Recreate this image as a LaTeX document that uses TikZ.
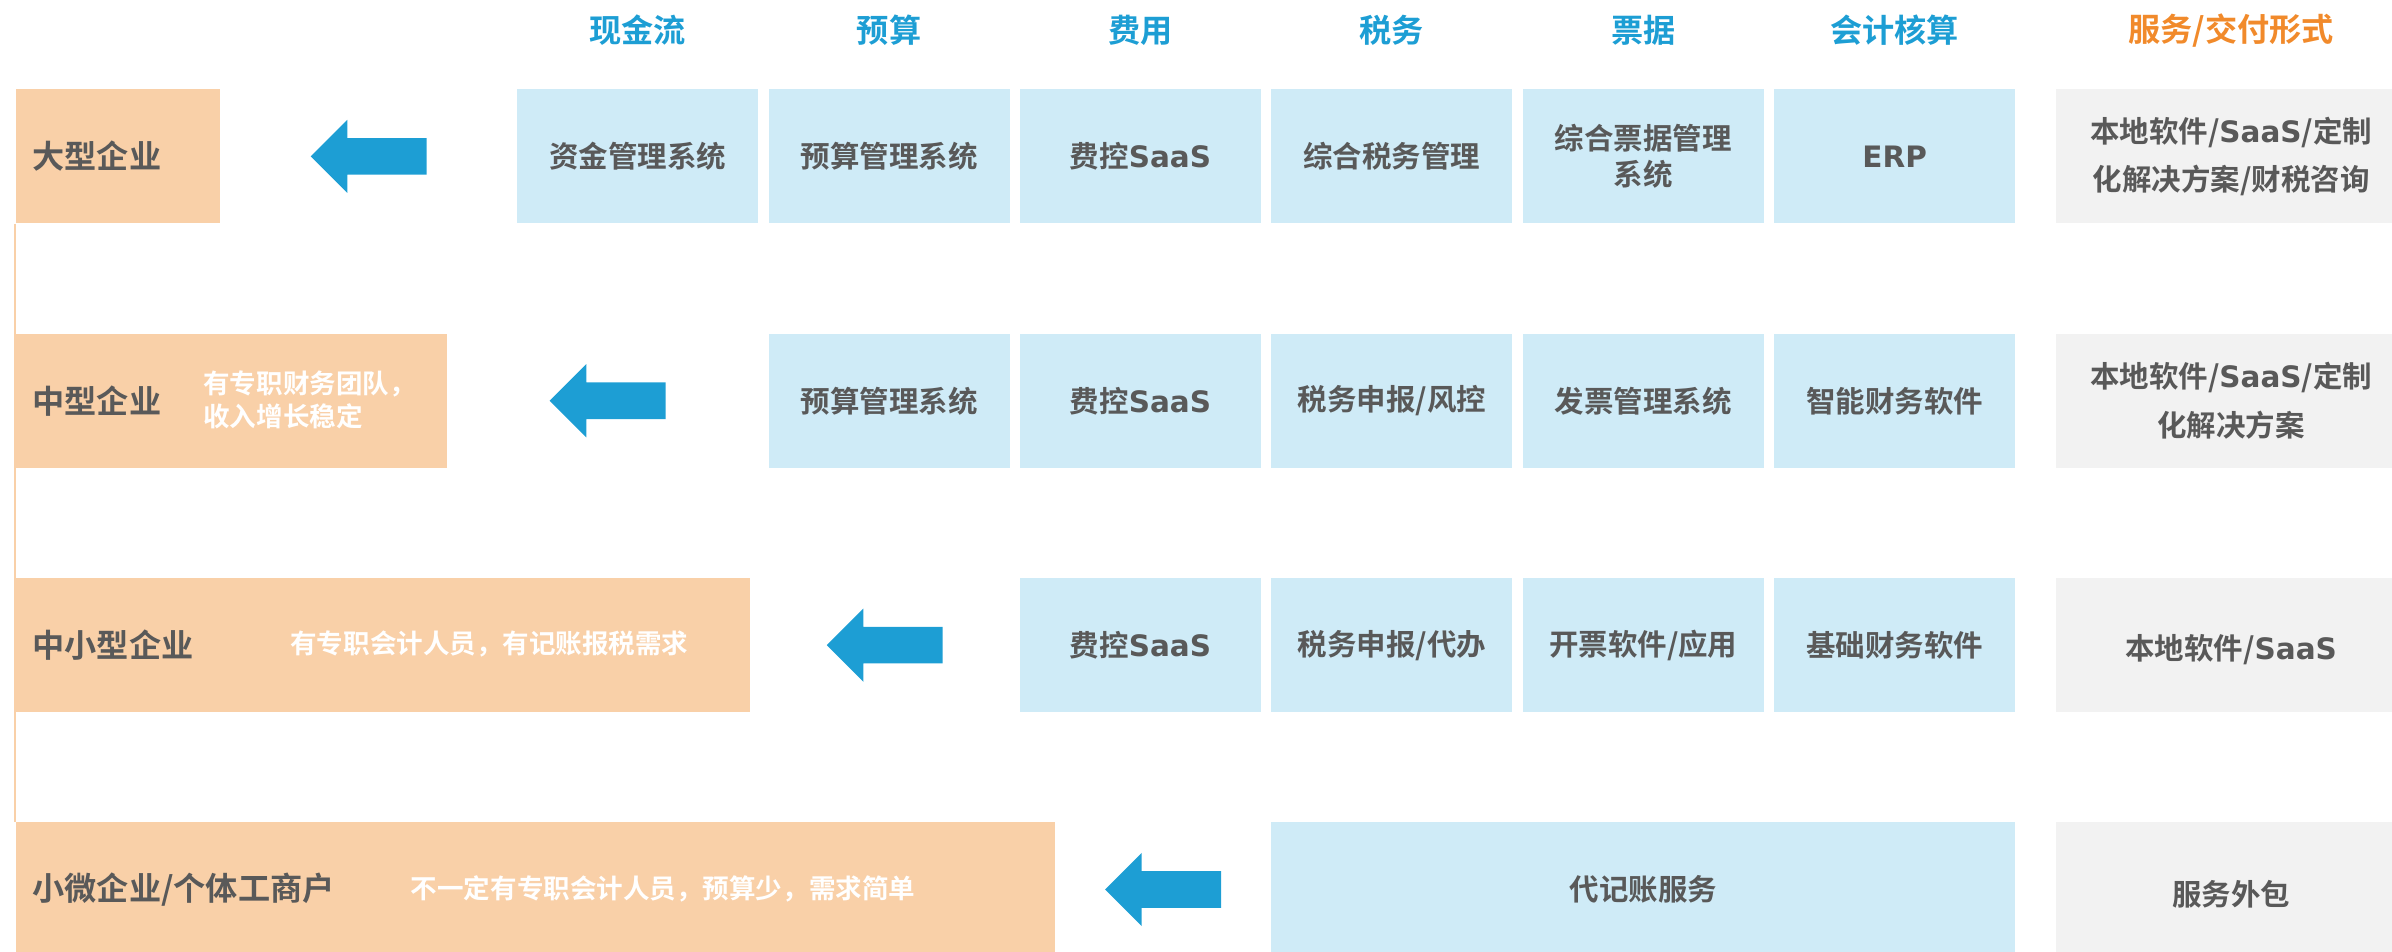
\documentclass[tikz,border=0pt]{standalone}
\usepackage{fontspec}
\setmainfont{Noto Sans CJK SC}[BoldFont={* Bold}]
\newfontfamily\enfont{DejaVu Sans}
\newcommand\en[1]{{\enfont\bfseries#1}}
\usetikzlibrary{calc,positioning}
\definecolor{txtgray}{HTML}{595959}
\definecolor{cellblue}{HTML}{CFEBF7}
\definecolor{cellgray}{HTML}{F2F2F2}
\definecolor{firmorange}{HTML}{F9D0A8}
\definecolor{arrowblue}{HTML}{1D9ED4}
\definecolor{headorange}{HTML}{F18A2B}
\begin{document}
\begin{tikzpicture}[x=0.2mm, y=-0.2mm, line join=round,
    cell/.style={fill=cellblue, inner sep=0pt, minimum width=3.16cm, minimum height=1.76cm, align=center, text=txtgray, font=\fontsize{11}{13.6}\selectfont\bfseries},
    serv/.style={cell, fill=cellgray, minimum width=4.59cm, font=\fontsize{11}{18}\selectfont\bfseries, execute at begin node={\rule{0pt}{13pt}}},
    firm/.style={fill=firmorange, inner sep=0pt, minimum height=1.76cm, anchor=west},
    lbl/.style={inner sep=0pt, anchor=west, text=txtgray, font=\fontsize{12}{14}\selectfont\bfseries},
    desc/.style={inner sep=0pt, anchor=west, align=left, text=white, font=\fontsize{9.9}{12.4}\selectfont\bfseries},
    head/.style={text=arrowblue, font=\fontsize{12}{14}\selectfont\bfseries}]
\useasboundingbox (0,0) rectangle (1568,623.4);
% column heads
\foreach \c/\h in {1/现金流,2/预算,3/费用,4/税务,5/票据,6/会计核算}
  \node[head] (h\c) at ({418+164.8*(\c-1)},20) {\h};
\node[head, text=headorange] (h7) at (1462.5,20) {服务/交付形式};
% enterprise sizes
\foreach \r/\w/\t in {1/2.68/大型企业,2/5.65/中型企业,3/9.62/中小型企业,4/13.62/{小微企业/个体工商户}}{
  \node[firm, minimum width=\w cm] (f\r) at (10,{102.5+160.2*(\r-1)}) {};
  \node[lbl, right=0.22cm of f\r.west] (l\r) {\t};
}
\node[desc] (d2) at (133,262) {有专职财务团队，\\收入增长稳定};
\node[desc] (d3) at (190,422) {有专职会计人员，有记账报税需求};
\node[desc] (d4) at (269,583) {不一定有专职会计人员，预算少，需求简单};
\draw[firmorange, line width=0.6pt] (f1.south west) -- (f4.north west);
% products
\foreach \r/\c/\t in {1/1/资金管理系统,1/2/预算管理系统,1/3/费控\en{SaaS},1/4/综合税务管理,1/5/{综合票据管理\\系统},1/6/\en{ERP},
    2/2/预算管理系统,2/3/费控\en{SaaS},2/4/{税务申报/风控},2/5/发票管理系统,2/6/智能财务软件,
    3/3/费控\en{SaaS},3/4/{税务申报/代办},3/5/{开票软件/应用},3/6/基础财务软件}
  \node[cell] (c\r\c) at ({418+164.8*(\c-1)},{102.5+160.2*(\r-1)}) {\t};
\node[cell, minimum width=9.75cm] (c44) at (1077.2,583.1) {代记账服务};
% delivery
\foreach \r/\t in {1/{本地软件/\en{SaaS}/定制\\化解决方案/财税咨询},2/{本地软件/\en{SaaS}/定制\\化解决方案},3/{本地软件/\en{SaaS}},4/服务外包}
  \node[serv] (s\r) at (1462.5,{102.5+160.2*(\r-1)}) {\t};
% arrows
\foreach \r in {1,...,4}
  \fill[arrowblue] ($(f\r.east)!.5!(c\r\r.west)$) ++(-38,0) -- ++(24,-24) -- ++(0,12) -- ++(52,0) -- ++(0,24) -- ++(-52,0) -- ++(0,12) -- cycle;
\end{tikzpicture}
\end{document}
